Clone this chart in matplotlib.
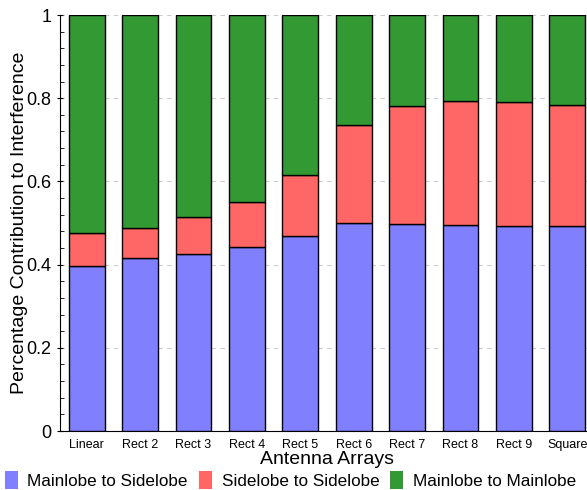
"""
Stacked bars: share of interference by lobe pairing, per antenna array layout.
"""

import numpy as np
import matplotlib.pyplot as plt
from matplotlib.ticker import MultipleLocator
from matplotlib.patches import Patch

plt.rcParams['font.family'] = ['Liberation Sans', 'DejaVu Sans']

# --- Data ---
arrays = ['Linear', 'Rect 2', 'Rect 3', 'Rect 4', 'Rect 5',
          'Rect 6', 'Rect 7', 'Rect 8', 'Rect 9', 'Square']
main_to_side = [0.397, 0.416, 0.425, 0.442, 0.469,
                0.500, 0.498, 0.495, 0.493, 0.493]
side_to_side = [0.079, 0.072, 0.089, 0.108, 0.146,
                0.236, 0.283, 0.298, 0.298, 0.291]
main_to_main = [1 - a - b for a, b in zip(main_to_side, side_to_side)]

series = ['Mainlobe to Sidelobe', 'Sidelobe to Sidelobe', 'Mainlobe to Mainlobe']
colors = ['#8080FF', '#FF6666', '#339933']

# --- Layout ---
fig = plt.figure(figsize=(5.87, 4.90), dpi=100)
ax = fig.add_axes([60 / 587, 59 / 490, 534 / 587, 416 / 490])

x = np.arange(len(arrays))
w = 0.67
bottom = np.zeros(len(arrays))
for vals, col in zip([main_to_side, side_to_side, main_to_main], colors):
    ax.bar(x, vals, w, bottom=bottom, color=col, edgecolor='black',
           linewidth=1.0, zorder=3)
    bottom += np.array(vals)

# --- Formatting ---
ax.set_xlim(-0.5, 9.5)
ax.set_ylim(0, 1)
ax.set_xticks(x)
ax.set_xticklabels(arrays, fontsize=9)
ax.tick_params(axis='x', length=0, pad=6)
ax.yaxis.set_major_locator(MultipleLocator(0.2))
ax.yaxis.set_minor_locator(MultipleLocator(0.04))
ax.set_yticks([0, 0.2, 0.4, 0.6, 0.8, 1.0])
ax.set_yticklabels(['0', '0.2', '0.4', '0.6', '0.8', '1'], fontsize=13)
ax.tick_params(axis='y', which='major', direction='inout', length=5, width=0.8)
ax.tick_params(axis='y', which='minor', direction='in', length=3, width=0.6)
ax.grid(axis='y', color='#cccccc', linestyle=(0, (4, 4)), linewidth=0.8, zorder=0)
ax.spines['top'].set_visible(False)
ax.spines['right'].set_visible(False)

ax.set_ylabel('Percentage Contribution to Interference', fontsize=14, labelpad=-1)
ax.set_xlabel('Antenna Arrays', fontsize=14, labelpad=0)

# --- Legend below the axes ---
handles = [Patch(facecolor=c, edgecolor='none') for c in colors]
fig.legend(handles, series, loc='center', bbox_to_anchor=(0.495, 10 / 490),
           ncol=3, frameon=False, fontsize=12.3, handlelength=0.76,
           handleheight=1.25, handletextpad=0.58, columnspacing=0.64,
           borderaxespad=0, borderpad=0)

fig.savefig('out.png', dpi=100)
